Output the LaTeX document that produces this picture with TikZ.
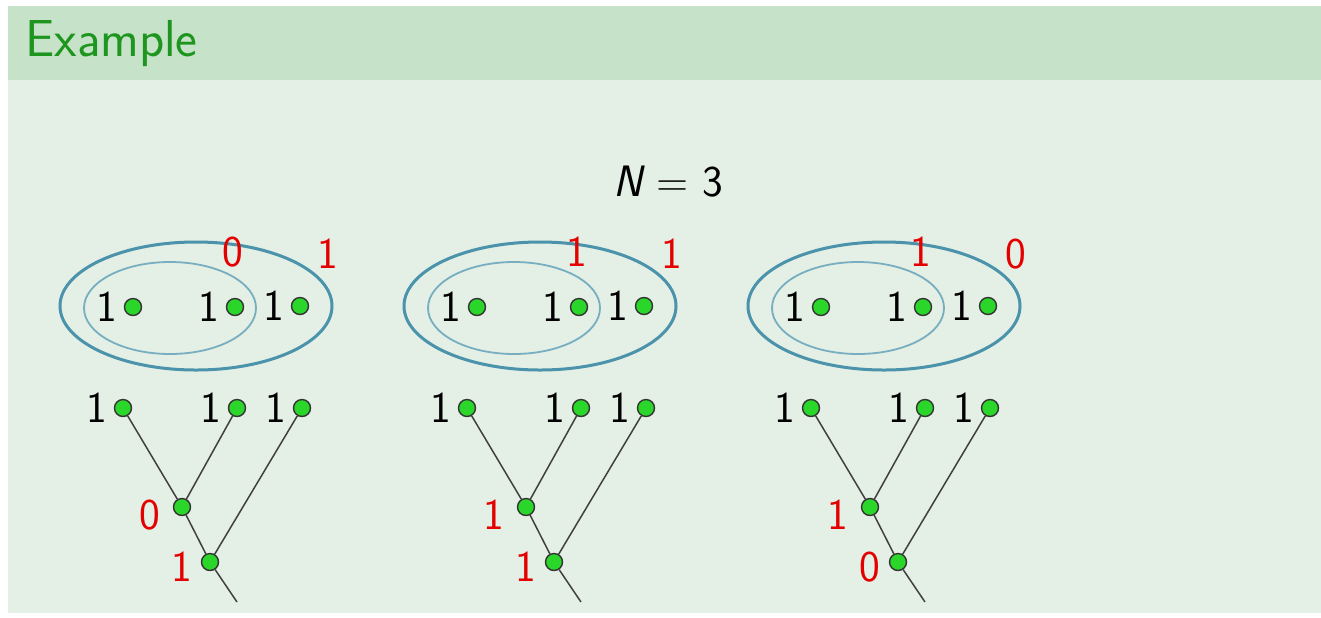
\documentclass[tikz,border=0pt]{standalone}
\usepackage{tikz}
\usetikzlibrary{positioning,shapes.geometric}
\definecolor{slidebg}{HTML}{E4EFE6}
\definecolor{headbg}{HTML}{C6E2C8}
\definecolor{titlegreen}{HTML}{1E951E}
\definecolor{setblue}{HTML}{4A93AB}
\definecolor{dotgreen}{HTML}{2BD62B}
\tikzset{dot/.style={circle,draw=black!80,fill=dotgreen,line width=0.7pt,minimum size=8.5pt,inner sep=0pt},
  num/.style={font=\sffamily\fontsize{22}{24}\selectfont,inner sep=1pt},
  val/.style={num,text=red!90!black},
  outerset/.style={ellipse,draw=setblue,line width=1.5pt,minimum width=136pt,minimum height=64pt,inner sep=0pt},
  innerset/.style={ellipse,draw=setblue!75,line width=0.9pt,minimum width=86pt,minimum height=46pt,inner sep=0pt},
  branch/.style={black!75,line width=0.75pt}}
\begin{document}
\begin{tikzpicture}[x=0.5pt,y=-0.5pt]
\fill[white] (0,0) rectangle (1321,617);
\fill[slidebg] (8,6) rectangle (1321,613);
\fill[headbg] (8,6) rectangle (1321,80);
\node[anchor=base west,inner sep=0pt,font=\sffamily\fontsize{26}{28}\selectfont,text=titlegreen] (title) at (25,56) {Example};
\node[num] (nval) at (668,182) {{\itshape N} = 3};
% one set picture and one tree per case
\foreach \g/\dx/\p/\q in {1/0/0/1,2/344/1/1,3/688/1/0}{
  \begin{scope}[shift={(\dx,0)}]
  \node[outerset] (out\g) at (196,306) {};
  \node[innerset] (in\g) at (170,308) {};
  \node[dot] (a\g) at (133,307) {};
  \node[dot] (b\g) at (235,307) {};
  \node[dot] (c\g) at (300,306) {};
  \node[num,left=2pt of a\g] (la\g) {1};
  \node[num,left=2pt of b\g] (lb\g) {1};
  \node[num,left=2pt of c\g] (lc\g) {1};
  \node[val] (vin\g) at (233,252) {\p};
  \node[val] (vout\g) at (328,254) {\q};
  % tree
  \node[dot] (p\g) at (123,408) {};
  \node[dot] (q\g) at (237,408) {};
  \node[dot] (r\g) at (302,408) {};
  \node[dot] (m\g) at (182,507) {};
  \node[dot] (s\g) at (210,562) {};
  \coordinate (e\g) at (237,602);
  \node[num,left=2pt of p\g] (lp\g) {1};
  \node[num,left=2pt of q\g] (lq\g) {1};
  \node[num,left=2pt of r\g] (lr\g) {1};
  \node[val] (vm\g) at (150,515) {\p};
  \node[val] (vs\g) at (182,567) {\q};
  \draw[branch] (p\g) -- (m\g) -- (s\g) -- (e\g);
  \draw[branch] (q\g) -- (m\g);
  \draw[branch] (r\g) -- (s\g);
  \end{scope}
}
\end{tikzpicture}
\end{document}
